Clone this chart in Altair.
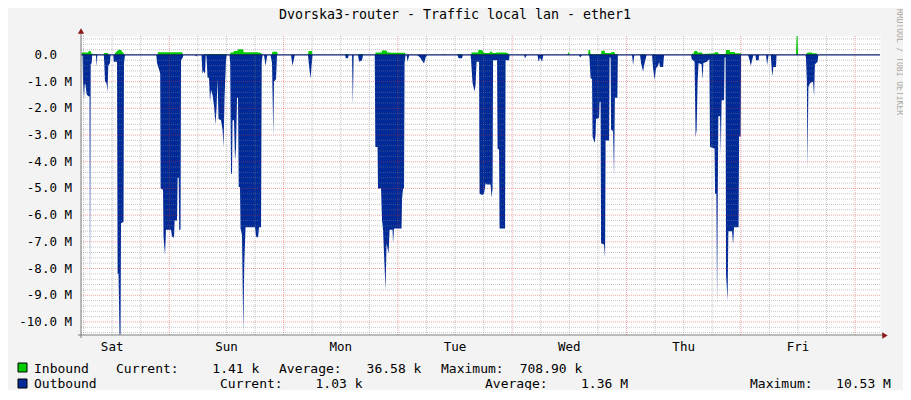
import altair as alt
import pandas as pd

# ---------------- data (hours since Saturday 00:00, values in Mbit/s) ----------------
title_text = "Dvorska3-router - Traffic local lan - ether1"
day_names = ["Sat", "Sun", "Mon", "Tue", "Wed", "Thu", "Fri"]
day_noon_h = [12, 36, 60, 84, 108, 132, 156]
midnight_h = [24, 48, 72, 96, 120, 144, 168]
six_hour_h = [6, 12, 18, 30, 36, 42, 54, 60, 66, 78, 84, 90, 102, 108, 114,
              126, 132, 138, 150, 156, 162]
y_major = [-1, -2, -3, -4, -5, -6, -7, -8, -9, -10]
y_tick_labels = ["-1.0 M", "-2.0 M", "-3.0 M", "-4.0 M", "-5.0 M",
                 "-6.0 M", "-7.0 M", "-8.0 M", "-9.0 M", "-10.0 M"]
y_zero_label = "0.0"
y_minor = [0.6, 0.4, 0.2, -0.2, -0.4, -0.6, -0.8, -1.2, -1.4, -1.6, -1.8, -2.2, -2.4,
           -2.6, -2.8, -3.2, -3.4, -3.6, -3.8, -4.2, -4.4, -4.6, -4.8, -5.2, -5.4,
           -5.6, -5.8, -6.2, -6.4, -6.6, -6.8, -7.2, -7.4, -7.6, -7.8, -8.2, -8.4,
           -8.6, -8.8, -9.2, -9.4, -9.6, -9.8, -10.2, -10.4]

outbound = [
    (5.46, 0), (5.78, 0), (5.88, -1.0), (6.09, -1.65), (6.24, -1.1), (6.41, -1.1), (6.62, -1.45),
    (6.93, -1.55), (7.25, -1.55), (7.35, -8.8), (7.5, -0.35), (7.71, -0.3), (7.81, 0),
    (8.61, 0), (8.74, -0.44), (8.88, 0),
    (10.25, 0), (10.35, -0.3), (10.5, -1.0), (10.82, -1.05), (11.03, -1.38), (11.19, -0.4),
    (11.55, -0.3), (11.66, 0),
    (12.24, 0), (12.35, -0.25), (13.02, -0.25), (13.15, -8.2), (13.34, -8.2), (13.55, -10.5),
    (13.76, -10.45), (13.86, -6.3), (14.39, -6.25), (14.49, -0.3), (14.7, 0),
    (21.27, 0), (21.42, -0.3), (21.95, -0.6), (22.09, -0.7), (22.18, -5.0), (22.68, -5.05),
    (22.79, -6.8), (23.1, -7.5), (23.31, -6.55), (24.36, -6.55), (24.57, -6.8), (24.99, -6.85),
    (25.12, -6.2), (25.62, -6.2), (25.75, -4.6), (25.98, -4.6), (26.08, -6.55), (26.36, -6.55),
    (26.46, -0.2), (26.84, -0.1), (26.94, 0),
    (29.4, 0), (29.61, -0.06), (29.82, 0),
    (30.77, 0), (30.97, -0.7), (31.19, -0.6), (31.5, -0.7), (31.65, 0),
    (31.77, 0), (31.88, -0.3), (32.03, -0.85), (32.34, -0.85), (32.55, -1.75), (32.76, -1.3),
    (33.08, -1.5), (33.39, -1.9), (33.71, -2.6), (33.92, -2.0), (34.13, -0.9), (34.34, -2.4),
    (34.86, -2.45), (35.18, -2.8), (35.39, -3.45), (35.6, -1.6), (35.91, -0.2), (36.06, 0),
    (36.65, 0), (36.79, -0.3), (36.96, -4.45), (37.17, -4.45), (37.28, -2.45), (37.59, -2.45),
    (37.8, -3.95), (38.01, -3.5), (38.22, -1.6), (38.43, -1.6), (38.58, -4.95), (38.85, -4.95),
    (38.96, -6.5), (39.27, -6.75), (39.54, -10.4), (39.75, -7.8), (40.01, -6.45), (42.0, -6.45),
    (42.21, -6.8), (42.63, -6.85), (42.84, -6.45), (43.26, -6.45), (43.41, -0.3), (43.58, 0),
    (43.89, 0), (44.21, -0.4), (44.58, 0),
    (45.26, 0), (45.57, -0.3), (45.84, -3.0), (45.99, -1.0), (46.41, -0.9), (46.62, 0),
    (49.56, 0), (49.88, -0.4), (50.34, 0),
    (53.13, 0), (53.34, -0.4), (53.66, -0.88), (53.87, -0.4), (54.08, 0),
    (60.9, 0), (61.07, -0.12), (61.53, -0.12), (61.64, 0),
    (62.37, 0), (62.54, -1.87), (62.71, 0),
    (63.63, 0), (63.84, -0.25), (64.47, -0.2), (64.68, 0),
    (67.14, 0), (67.26, -3.45), (67.73, -3.45), (67.83, -5.0), (68.46, -5.0), (68.67, -6.2),
    (68.88, -6.55), (69.41, -8.8), (69.62, -7.05), (70.04, -7.45), (70.25, -6.55), (70.88, -6.55),
    (70.98, -7.05), (71.19, -6.5), (72.77, -6.5), (72.87, -5.4), (73.08, -5.0), (73.29, -5.0),
    (73.4, -0.3), (73.61, 0),
    (73.82, 0), (74.03, -0.25), (74.4, 0),
    (76.02, 0), (76.65, -0.1), (77.49, -0.32), (77.81, -0.1), (78.12, 0),
    (84.53, 0), (84.74, -0.12), (85.47, -0.12), (85.64, 0),
    (87.26, 0), (87.36, -0.2), (87.68, -1.05), (88.1, -1.37), (88.31, -1.1), (88.52, -0.25),
    (89.04, -0.25), (89.15, -5.2), (89.67, -5.25), (90.09, -5.2), (90.41, -4.8), (90.62, -4.85),
    (91.46, -4.85), (91.67, -5.35), (91.88, -5.0), (91.98, -0.2), (92.82, -0.2), (92.93, -3.5),
    (93.24, -3.55), (93.35, -6.5), (94.5, -6.5), (94.61, -0.2), (95.34, -0.2), (95.45, 0),
    (98.49, 0), (98.7, -0.12), (99.06, 0),
    (101.33, 0), (101.54, -0.25), (101.85, -0.1), (102.27, -0.25), (102.54, 0),
    (110.04, 0), (110.25, -0.1), (110.67, 0),
    (112.14, 0), (112.25, -0.15), (112.46, -0.87), (112.77, -0.9), (112.88, -3.05), (113.3, -3.3),
    (113.51, -3.0), (113.61, -2.4), (114.24, -2.35), (114.35, -1.75), (114.56, -1.75),
    (114.66, -7.05), (115.29, -7.1), (115.5, -7.6), (115.61, -3.2), (116.34, -3.2),
    (116.45, -0.1), (116.66, -0.1), (116.76, -2.8), (117.18, -2.85), (117.39, -4.55),
    (117.56, -1.6), (118.08, -1.6), (118.19, 0),
    (121.17, 0), (121.38, -0.38), (121.65, 0),
    (122.85, 0), (123.06, -0.3), (123.48, -0.62), (123.8, -0.3), (124.22, 0),
    (125.37, 0), (125.58, -0.5), (125.9, -0.93), (126.21, -0.5), (126.63, -0.4), (126.84, -0.25),
    (127.05, -0.45), (127.68, -0.45), (127.89, 0),
    (133.56, 0), (133.67, -0.15), (134.3, -0.25), (134.51, -3.1), (134.72, -2.8), (134.93, -1.0),
    (135.14, -0.3), (135.77, -0.35), (135.98, -0.93), (136.14, -0.3), (136.92, -0.25),
    (137.4, -0.15), (137.55, -3.45), (138.49, -3.5), (138.6, -5.2), (138.87, -5.2),
    (139.02, -9.37), (139.17, -5.2), (139.29, -2.3), (139.65, -2.3), (139.8, -3.75),
    (139.97, -1.7), (140.49, -1.7), (140.6, -0.1), (140.81, -0.1), (140.91, -8.25),
    (141.23, -9.2), (141.39, -6.6), (142.17, -6.6), (142.38, -7.1), (142.59, -6.45),
    (143.54, -6.45), (143.64, -3.05), (143.96, -3.05), (144.07, 0),
    (145.53, 0), (145.85, -0.2), (146.1, -0.4), (146.37, -0.2), (146.65, 0),
    (147.07, 0), (147.21, -0.2), (147.74, -0.2), (147.84, 0),
    (149.31, 0), (149.52, -0.38), (149.83, 0),
    (150.29, 0), (150.45, -0.4), (150.62, -0.8), (150.83, -0.45), (151.4, -0.45), (151.5, 0),
    (157.6, 0), (157.7, -0.15), (157.87, -1.0), (158.02, -4.25), (158.19, -1.2), (158.55, -1.05),
    (159.18, -1.0), (159.39, -1.55), (159.56, -0.35), (160.13, -0.25), (160.28, 0),
]

inbound = [
    (5.52, 0), (5.67, 0.09), (6.93, 0.09), (7.14, 0.15), (7.46, 0.15), (7.67, 0.05), (7.98, 0.04),
    (8.61, 0.04), (8.82, 0),
    (10.19, 0), (10.29, 0.07), (11.13, 0.07), (11.24, 0),
    (12.5, 0), (12.66, 0.08), (13.13, 0.15), (13.44, 0.2), (13.86, 0.19), (14.17, 0.1),
    (14.49, 0.05), (14.6, 0),
    (21.53, 0), (21.63, 0.1), (26.73, 0.1), (26.84, 0),
    (31.24, 0), (31.35, 0.04), (36.01, 0.04), (36.12, 0),
    (36.75, 0), (36.86, 0.09), (37.44, 0.09), (37.59, 0.15), (38.29, 0.15), (38.43, 0.21),
    (39.48, 0.21), (39.63, 0.1), (42.42, 0.1), (43.16, 0.08), (43.47, 0.04), (43.58, 0),
    (45.47, 0), (45.68, 0.12), (46.62, 0.12), (46.83, 0),
    (53.13, 0), (53.24, 0.15), (53.97, 0.15), (54.08, 0),
    (60.9, 0), (61.0, 0.04), (61.53, 0.04), (61.64, 0),
    (63.63, 0), (63.74, 0.04), (64.68, 0.04), (64.79, 0),
    (67.2, 0), (67.31, 0.09), (68.57, 0.09), (68.67, 0.17), (69.62, 0.17), (69.72, 0.1),
    (70.77, 0.08), (73.5, 0.08), (73.61, 0),
    (81.48, 0), (81.59, 0.04), (81.8, 0.04), (81.9, 0),
    (84.42, 0), (84.53, 0.04), (85.26, 0.04), (85.37, 0),
    (87.36, 0), (87.47, 0.09), (88.83, 0.09), (88.94, 0.19), (89.46, 0.19), (89.78, 0.16),
    (90.09, 0.07), (91.25, 0.07), (91.35, 0.12), (91.77, 0.12), (91.88, 0.07), (92.61, 0.07),
    (92.72, 0.09), (94.71, 0.09), (95.34, 0.04), (95.45, 0),
    (107.63, 0), (107.73, 0.09), (107.94, 0.09), (108.05, 0),
    (111.93, 0), (112.04, 0.19), (112.35, 0.19), (112.46, 0.04), (114.66, 0.04), (114.77, 0.16),
    (115.4, 0.16), (115.5, 0.07), (116.76, 0.07), (116.87, 0.11), (117.49, 0.11), (117.6, 0.04),
    (118.02, 0.04), (118.12, 0),
    (123.06, 0), (123.17, 0.04), (123.8, 0.04), (123.9, 0),
    (125.58, 0), (125.69, 0.04), (126.0, 0.04), (126.11, 0),
    (133.67, 0), (133.77, 0.05), (134.13, 0.05), (134.24, 0.15), (134.82, 0.15), (134.93, 0.09),
    (135.88, 0.09), (135.98, 0.04), (138.49, 0.06), (138.6, 0.1), (139.23, 0.1), (139.34, 0.04),
    (140.81, 0.04), (140.91, 0.19), (141.65, 0.19), (141.75, 0.11), (142.69, 0.11),
    (142.8, 0.06), (144.07, 0.06), (144.18, 0),
    (150.39, 0), (150.5, 0.04), (150.71, 0.04), (150.81, 0),
    (155.58, 0), (155.71, 0.71), (155.92, 0.71), (156.04, 0),
    (157.7, 0), (157.81, 0.06), (158.12, 0.09), (158.86, 0.09), (158.97, 0.06), (159.91, 0.06),
    (160.02, 0),
]

legend_in = ["Inbound", "Current:", "1.41 k", "Average:", "36.58 k", "Maximum:", "708.90 k"]
legend_out = ["Outbound", "Current:", "1.03 k", "Average:", "1.36 M", "Maximum:", "10.53 M"]
credit = "RRDTOOL / TOBI OETIKER"

# ---------------- styling / layout ----------------
FONT = "DejaVu Sans Mono"
GREEN = "#00CC00"
BLUE = "#002A97"
W, H = 799, 299
xs = alt.Scale(domain=[5.46, 173.23], nice=False, zero=False)
ys = alt.Scale(domain=[-10.49, 0.71], nice=False, zero=False)

df_out = pd.DataFrame(outbound, columns=["h", "v"])
df_in = pd.DataFrame(inbound, columns=["h", "v"])

X = alt.X("h:Q", scale=xs, axis=None)
Y = alt.Y("v:Q", scale=ys, axis=None)

area_out = alt.Chart(df_out).mark_area(color=BLUE, interpolate="linear").encode(
    x=X, y=alt.Y("v:Q", scale=ys, axis=None, stack=None))
area_in = alt.Chart(df_in).mark_area(color=GREEN, interpolate="linear").encode(
    x=X, y=alt.Y("v:Q", scale=ys, axis=None, stack=None))

vminor = alt.Chart(pd.DataFrame({"h": six_hour_h})).mark_rule(
    color="#7F7F7F", opacity=0.45, strokeDash=[1, 1], strokeWidth=1).encode(
    x=X, y=alt.value(0), y2=alt.value(H))
vmajor = alt.Chart(pd.DataFrame({"h": midnight_h})).mark_rule(
    color="#E03030", opacity=0.45, strokeDash=[1, 1], strokeWidth=1).encode(
    x=X, y=alt.value(0), y2=alt.value(H))
hminor = alt.Chart(pd.DataFrame({"v": y_minor})).mark_rule(
    color="#7F7F7F", opacity=0.45, strokeDash=[1, 1], strokeWidth=1).encode(
    y=Y, x=alt.value(0), x2=alt.value(W))
hmajor = alt.Chart(pd.DataFrame({"v": y_major})).mark_rule(
    color="#E03030", opacity=0.45, strokeDash=[1, 1], strokeWidth=1).encode(
    y=Y, x=alt.value(0), x2=alt.value(W))

zero_line = alt.Chart(pd.DataFrame({"v": [0]})).mark_rule(
    color="#0C1E70", strokeWidth=1.3).encode(y=Y, x=alt.value(0), x2=alt.value(W))

one = pd.DataFrame({"a": [0]})
axis_left = alt.Chart(one).mark_rule(color="#7A7A7A", strokeWidth=1).encode(
    x=alt.value(0), y=alt.value(-3), y2=alt.value(H + 3))
axis_bottom = alt.Chart(one).mark_rule(color="#7A7A7A", strokeWidth=1).encode(
    y=alt.value(H), x=alt.value(-3), x2=alt.value(W + 3))
arrow_up = alt.Chart(one).mark_point(shape="triangle-up", filled=True, size=40,
                                     color="#8B1A1A", opacity=1).encode(
    x=alt.value(0), y=alt.value(-5))
arrow_right = alt.Chart(one).mark_point(shape="triangle-right", filled=True, size=40,
                                        color="#8B1A1A", opacity=1).encode(
    x=alt.value(W + 5), y=alt.value(H + 0.5))

ylab = alt.Chart(pd.DataFrame({"v": y_major, "t": y_tick_labels})).mark_text(
    font=FONT, fontSize=12.5, align="right", baseline="middle", color="#000000").encode(
    y=Y, x=alt.value(-9), text="t:N")
ylab0 = alt.Chart(pd.DataFrame({"v": [0], "t": [y_zero_label]})).mark_text(
    font=FONT, fontSize=12.5, align="right", baseline="middle", color="#000000").encode(
    y=Y, x=alt.value(-24), text="t:N")
xlab = alt.Chart(pd.DataFrame({"h": day_noon_h, "t": day_names})).mark_text(
    font=FONT, fontSize=12.5, align="center", baseline="middle", color="#000000").encode(
    x=X, y=alt.value(310.5), text="t:N")


def label(text, x, y, align="left", size=13.0, color="#000000", angle=0, baseline="middle"):
    return alt.Chart(one).mark_text(text=text, font=FONT, fontSize=size, align=align,
                                    baseline=baseline, color=color, angle=angle).encode(
        x=alt.value(x), y=alt.value(y))


texts = [label(title_text, 374, -21.5, align="center", size=13.3)]
texts.append(label(credit, 817.5, 26, align="center", size=8, color="#A8A8A8", angle=90))

row1_x = [-47, 35, 154.8, 198, 313, 360, 470]
row2_x = [-47, 139, 258, 404, 523.5, 669, 782.5]
row_align = ["left", "left", "center", "left", "center", "left", "center"]
for t, x, a in zip(legend_in, row1_x, row_align):
    texts.append(label(t, x, 336.5, align=a, baseline="alphabetic"))
for t, x, a in zip(legend_out, row2_x, row_align):
    texts.append(label(t, x, 352.3, align=a, baseline="alphabetic"))

sq_in = alt.Chart(one).mark_rect(color=GREEN, stroke="#000000", strokeWidth=1).encode(
    x=alt.value(-63), x2=alt.value(-54), y=alt.value(327), y2=alt.value(336))
sq_out = alt.Chart(one).mark_rect(color=BLUE, stroke="#000000", strokeWidth=1).encode(
    x=alt.value(-63), x2=alt.value(-54), y=alt.value(343), y2=alt.value(352))

chart = alt.layer(
    area_out, area_in, vminor, vmajor, hminor, hmajor, zero_line,
    axis_left, axis_bottom, arrow_up, arrow_right, ylab, ylab0, xlab, sq_in, sq_out,
    *texts
).properties(
    width=W, height=H, background="#F3F3F3",
    padding={"left": 73, "top": 28, "right": 23, "bottom": 55},
    autosize=alt.AutoSizeParams(type="none"),
).configure_view(fill="#FFFFFF", stroke="transparent")

chart.save("out.html", embed_options={"renderer": "svg", "actions": False})
